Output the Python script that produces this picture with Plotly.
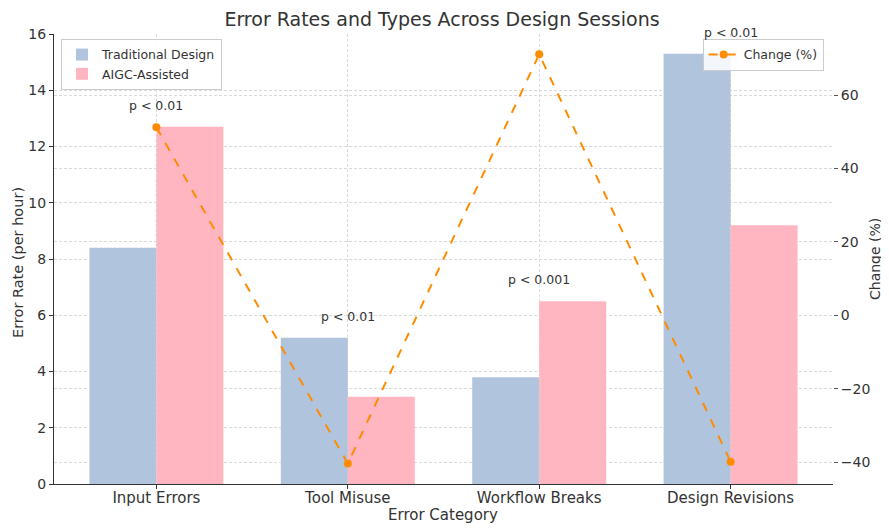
import plotly.graph_objects as go

categories = ["Input Errors", "Tool Misuse", "Workflow Breaks", "Design Revisions"]
traditional = [8.4, 5.2, 3.8, 15.3]
aigc = [12.7, 3.1, 6.5, 9.2]
change_pct = [51.2, -40.4, 71.1, -39.9]
p_labels = ["p < 0.01", "p < 0.01", "p < 0.001", "p < 0.01"]
left_ticks = [0, 2, 4, 6, 8, 10, 12, 14, 16]
right_ticks = [-40, -20, 0, 20, 40, 60]

FONT = "DejaVu Sans"
TXT = "#333333"
xs = list(range(len(categories)))
bw = 0.35

# page body has an 8px margin, so the figure is sized to fit the 889x528 window
OFF = 8
W, H = 889 - OFF, 528 - OFF
L, R, T, B = 54 - OFF, 56, 34 - OFF, 44
PW, PH = W - L - R, H - T - B


def px_x(page_x):
    return (page_x - OFF - L) / PW


def px_y(page_y):
    return (H - B - (page_y - OFF)) / PH


fig = go.Figure()
fig.add_trace(go.Bar(
    x=xs, y=traditional, width=bw, offset=-bw, name="Traditional Design",
    marker=dict(color="#B0C4DE", line=dict(width=0)), legend="legend",
))
fig.add_trace(go.Bar(
    x=xs, y=aigc, width=bw, offset=0, name="AIGC-Assisted",
    marker=dict(color="#FFB6C1", line=dict(width=0)), legend="legend",
))
fig.add_trace(go.Scatter(
    x=xs, y=change_pct, yaxis="y2", name="Change (%)", mode="lines+markers",
    line=dict(color="#FF8C00", width=2, dash="dash"),
    marker=dict(color="#FF8C00", size=8), legend="legend2",
))

for i, lab in enumerate(p_labels):
    top = max(traditional[i], aigc[i])
    fig.add_annotation(
        x=xs[i], y=top + 0.5, xref="x", yref="y", text=lab, showarrow=False,
        yanchor="bottom", xanchor="center", yshift=-2,
        font=dict(family=FONT, size=12.5, color=TXT),
    )

# axis titles
fig.add_annotation(text="Error Category", xref="paper", yref="paper",
                   x=px_x(442.5), y=px_y(515), showarrow=False,
                   xanchor="center", yanchor="middle", font=dict(family=FONT, size=15, color=TXT))
fig.add_annotation(text="Error Rate (per hour)", xref="paper", yref="paper",
                   x=px_x(18), y=px_y(263), showarrow=False, textangle=-90,
                   xanchor="center", yanchor="middle", font=dict(family=FONT, size=14.5, color=TXT))
fig.add_annotation(text="Change (%)", xref="paper", yref="paper",
                   x=px_x(875), y=px_y(259), showarrow=False, textangle=-90,
                   xanchor="center", yanchor="middle", font=dict(family=FONT, size=14, color=TXT))

grid = dict(showgrid=True, gridcolor="#d9d9d9", griddash="3px,2px", gridwidth=1)

fig.update_layout(
    width=W, height=H, autosize=False,
    margin=dict(l=L, r=R, t=T, b=B, autoexpand=False),
    plot_bgcolor="white", paper_bgcolor="white",
    font=dict(family=FONT, size=14, color=TXT),
    title=dict(text="Error Rates and Types Across Design Sessions", x=px_x(442), xanchor="center",
               xref="paper", yref="container", y=1 - (19.5 - OFF) / H, yanchor="middle",
               font=dict(family=FONT, size=19, color=TXT)),
    barmode="overlay",
    xaxis=dict(
        range=[-0.535, 3.535], tickvals=xs, ticktext=categories, zeroline=False,
        showline=True, linecolor="#333333", linewidth=1.2, ticks="outside", ticklen=4,
        tickcolor="#333333", automargin=False, ticklabelstandoff=-4,
        tickfont=dict(family=FONT, size=15, color=TXT),
        **grid,
    ),
    yaxis=dict(
        range=[0, 16], tickvals=left_ticks, zeroline=False,
        showline=True, linecolor="#333333", linewidth=1.2, ticks="outside", ticklen=4,
        tickcolor="#333333", automargin=False, tickfont=dict(family=FONT, size=14, color=TXT),
        **grid,
    ),
    yaxis2=dict(
        range=[-45.97, 76.63], tickvals=right_ticks, overlaying="y", side="right",
        zeroline=False, showline=False, ticks="outside", ticklen=4, tickcolor="#555555",
        automargin=False, tickfont=dict(family=FONT, size=14, color=TXT),
        **grid,
    ),
    legend=dict(
        x=0.009, y=0.989, xanchor="left", yanchor="top",
        bgcolor="rgba(255,255,255,0.85)", bordercolor="#cccccc", borderwidth=1,
        font=dict(family=FONT, size=12.5, color=TXT),
    ),
    legend2=dict(
        x=0.988, y=0.989, xanchor="right", yanchor="top",
        bgcolor="rgba(255,255,255,0.85)", bordercolor="#cccccc", borderwidth=1,
        font=dict(family=FONT, size=12.5, color=TXT),
    ),
)

fig.write_html("out.html")
